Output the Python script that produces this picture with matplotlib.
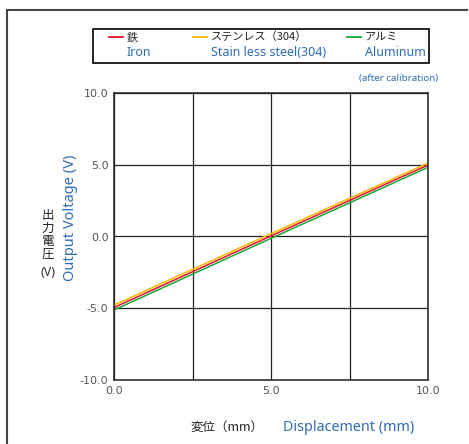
import matplotlib
matplotlib.use('Agg')
import matplotlib.pyplot as plt
from matplotlib.lines import Line2D
from matplotlib.patches import Rectangle

plt.rcParams['font.family'] = ['Noto Sans CJK JP', 'DejaVu Sans']

# data (after calibration)
displacement = [0.0, 5.0, 10.0]
iron = [-4.95, 0.04, 4.98]
stainless = [-4.78, 0.2, 5.12]
aluminum = [-5.12, -0.13, 4.82]

names_jp = ['鉄', 'ステンレス（304）', 'アルミ']
names_en = ['Iron', 'Stain less steel(304)', 'Aluminum']
colors = ['#e8102e', '#ffb400', '#14a83c']

x_ticks = [0.0, 2.5, 5.0, 7.5, 10.0]
x_labels = ['0.0', '', '5.0', '', '10.0']
y_ticks = [-10.0, -5.0, 0.0, 5.0, 10.0]
y_labels = ['-10.0', '-5.0', '0.0', '5.0', '10.0']

W, H = 469, 444
blue = '#2f6db5'
gray = '#555555'


def fx(px):
    return px / W


def fy(py):
    return 1 - py / H


fig = plt.figure(figsize=(W / 100, H / 100), dpi=100)
ax = fig.add_axes([fx(114), fy(380), fx(428) - fx(114), fy(93) - fy(380)])

for ys, c in zip([iron, stainless, aluminum], colors):
    ax.plot(displacement, ys, color=c, lw=1.1, solid_capstyle='butt')

ax.set_xlim(0, 10)
ax.set_ylim(-10, 10)
ax.set_xticks(x_ticks)
ax.set_xticklabels(x_labels)
ax.set_yticks(y_ticks)
ax.set_yticklabels(y_labels)
ax.tick_params(length=0, labelsize=8, labelcolor=gray, pad=4)
for lab in ax.get_yticklabels() + ax.get_xticklabels():
    lab.set_family('DejaVu Sans')
ax.grid(True, color='#222222', lw=0.9)
for s in ax.spines.values():
    s.set_color('#222222')
    s.set_linewidth(1.1)

# outer frame (left and top edges)
fig.add_artist(Line2D([fx(7), fx(7)], [fy(10), 0], color='#444444', lw=1.5))
fig.add_artist(Line2D([fx(7), fx(467)], [fy(10), fy(10)], color='#444444', lw=1.5))

# legend box
fig.add_artist(Rectangle((fx(93), fy(63)), fx(429) - fx(93), fy(29) - fy(63),
                         fill=False, edgecolor='black', lw=1.2))
line_x = [109, 193, 347]
for lx, jp, en, c in zip(line_x, names_jp, names_en, colors):
    fig.add_artist(Line2D([fx(lx), fx(lx + 14)], [fy(37), fy(37)], color=c, lw=1.3))
    fig.text(fx(lx + 18), fy(37), jp, fontsize=8, color='#222222', va='center', ha='left')
    fig.text(fx(lx + 18), fy(52), en, fontsize=9, color=blue, va='center', ha='left',
             family=['Noto Sans', 'DejaVu Sans'])

fig.text(fx(438), fy(78), '(after calibration)', fontsize=7, color=blue, ha='right', va='center',
         family=['Noto Sans', 'DejaVu Sans'])

# y axis labels: Japanese written top to bottom, (V) upright underneath
for ch, py in zip('出力電圧', [215, 228, 241, 254]):
    fig.text(fx(48), fy(py), ch, fontsize=9, color='#222222', ha='center', va='center')
fig.text(fx(48), fy(272), '(V)', fontsize=9, color='#333333', ha='center', va='center',
         family=['Noto Sans', 'DejaVu Sans'])
fig.text(fx(70), fy(218), 'Output Voltage (V)', fontsize=10.5, color=blue, ha='center', va='center',
         rotation=90, family=['Noto Sans', 'DejaVu Sans'])

# x axis labels
fig.text(fx(227), fy(427), '変位（mm）', fontsize=9, color='#222222', ha='center', va='center')
fig.text(fx(349), fy(427), 'Displacement (mm)', fontsize=10.3, color=blue, ha='center', va='center',
         family=['Noto Sans', 'DejaVu Sans'])

fig.savefig('out.png', dpi=100)
